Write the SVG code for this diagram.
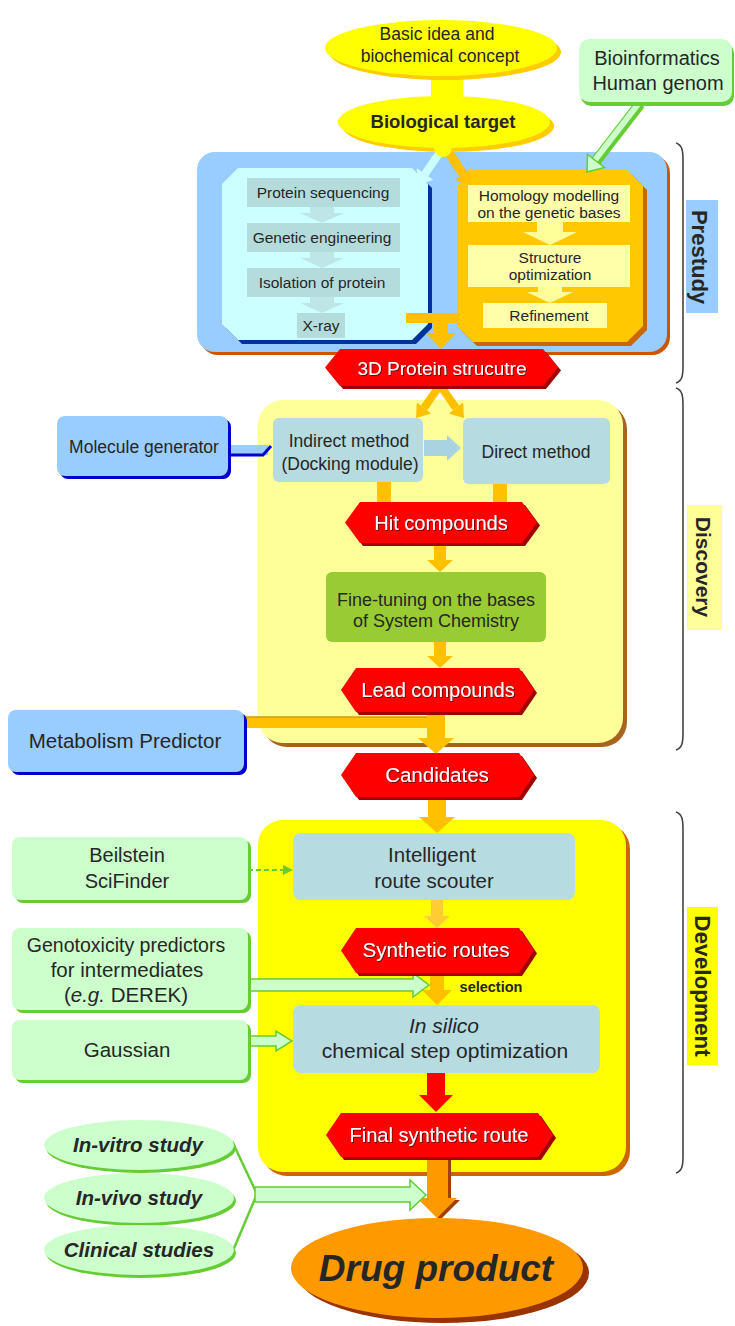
<svg xmlns="http://www.w3.org/2000/svg" width="735" height="1326" viewBox="0 0 735 1326">
<defs>
<style>
text{font-family:"Liberation Sans",Arial,sans-serif;text-anchor:middle;fill:#262626}
.w{fill:#fff;filter:url(#ts)}
.b{font-weight:bold}
.bi{font-weight:bold;font-style:italic}
.hex{fill:#ff0000}
.hexs{fill:#a00000}
.org{fill:#ffc000}
.gi{fill:#b5dcdc}
.ga{fill:#bfe6e6}
.yi{fill:#ffffaa}
.bl{fill:#b6dbe1}
.gr{fill:#ccffcc}
.grs{fill:#66cc33}
.brk{fill:none;stroke:#444;stroke-width:1.6}
</style>
<filter id="ts" x="-10%" y="-30%" width="120%" height="160%">
<feDropShadow dx="1" dy="1" stdDeviation="0.5" flood-color="#660000" flood-opacity="0.9"/>
</filter>
</defs>
<rect width="735" height="1326" fill="#ffffff"/>

<!-- containers -->
<g id="prestudy-box">
<rect x="200" y="155" width="470" height="200" rx="18" fill="#cc5500"/>
<rect x="197" y="152" width="470" height="200" rx="18" fill="#99ccff"/>
</g>
<g id="discovery-box">
<rect x="262" y="404" width="365" height="343" rx="25" fill="#a8641e"/>
<rect x="258" y="400" width="365" height="343" rx="25" fill="#ffff99"/>
</g>
<g id="development-box">
<rect x="262" y="824" width="368" height="352" rx="25" fill="#cc6600"/>
<rect x="258" y="820" width="368" height="352" rx="25" fill="#ffff00"/>
</g>
<g id="experimental-box">
<polygon points="242,172 416,172 432,188 432,328 416,344 242,344 226,328 226,188" fill="#003399"/>
<polygon points="238,168 412,168 428,184 428,324 412,340 238,340 222,324 222,184" fill="#ccffff"/>
</g>
<g id="computational-box">
<polygon points="477,174 631,174 647,190 647,330 631,346 477,346 461,330 461,190" fill="#cc6600"/>
<polygon points="473,170 627,170 643,186 643,326 627,342 473,342 457,326 457,186" fill="#ffc800"/>
</g>

<g id="connectors">
<!-- basic idea to biological target -->
<rect x="431" y="70" width="32" height="32" fill="#ffff00"/>
<!-- bio target to computational -->
<line x1="447" y1="150" x2="463" y2="174" stroke="#ffc000" stroke-width="9"/>
<polygon points="471.1,168.1 454.9,179.9 471,185" fill="#ffc000"/>
<!-- bio target to experimental -->
<line x1="440" y1="152" x2="425" y2="174" stroke="#ccffff" stroke-width="8"/>
<polygon points="433.3,179.7 416.8,168.3 417,186" fill="#ccffff"/>
<!-- bioinformatics to computational -->
<line x1="640" y1="104" x2="596" y2="161" stroke="#66cc33" stroke-width="11"/>
<line x1="639" y1="103" x2="595" y2="160" stroke="#ccffcc" stroke-width="6"/>
<polygon points="604.5,167.5 587.5,154.5 587,172" fill="#ccffcc" stroke="#66cc33" stroke-width="1.5"/>
<!-- T connector to 3D protein -->
<polygon points="406,313 459,313 459,323 448,323 448,333 456,333 441,349 426,333 434,333 434,323 406,323" class="org"/>
<!-- fork to indirect / direct -->
<line x1="438" y1="388" x2="424" y2="408" stroke="#ffc000" stroke-width="8"/>
<polygon points="431.1,413.6 416.9,402.4 416,418" class="org"/>
<line x1="442" y1="388" x2="456" y2="408" stroke="#ffc000" stroke-width="8"/>
<polygon points="448.9,413.6 463.1,402.4 464,418" class="org"/>
<!-- molecule generator to indirect -->
<rect x="228" y="445" width="40" height="10" fill="#99ccff"/>
<polyline points="229,455 263,455 271,446" fill="none" stroke="#0000cc" stroke-width="3"/>
<!-- indirect to direct -->
<polygon points="424,440 447,440 447,435 461,448 447,461 447,456 424,456" fill="#a9d3e0"/>
<!-- to hit compounds -->
<rect x="377" y="482" width="14" height="21" class="org"/>
<rect x="493" y="484" width="14" height="19" class="org"/>
<!-- hit to fine-tuning -->
<polygon points="434,543 446,543 446,560 453,560 440,572 427,560 434,560" class="org"/>
<!-- fine-tuning to lead -->
<polygon points="434,642 446,642 446,656 453,656 440,668 427,656 434,656" class="org"/>
<!-- lead + metabolism to candidates -->
<polygon points="244,717 427,717 427,712 445,712 445,738 454,738 436,754 418,738 427,738 427,728 244,728" class="org"/>
<line x1="244" y1="717" x2="427" y2="717" stroke="#d99a00" stroke-width="1.5"/>
<!-- candidates to scouter -->
<polygon points="428,797 446,797 446,817 455,817 437,833 419,817 428,817" class="org"/>
<!-- beilstein to scouter -->
<line x1="248" y1="870" x2="285" y2="870" stroke="#66cc33" stroke-width="2" stroke-dasharray="5,3"/>
<polygon points="283,865 293,870 283,875" fill="#66cc33"/>
<!-- scouter to synthetic routes -->
<polygon points="431,900 443,900 443,916 450,916 437,928 424,916 431,916" fill="#ffcc33"/>
<!-- synthetic routes to in silico -->
<polygon points="430,973 444,973 444,990 452,990 437,1005 422,990 430,990" class="org"/>
<!-- genotoxicity to selection -->
<polygon points="248,979 413,979 413,973 429,985 413,997 413,991 248,991" fill="#ccffcc" stroke="#66cc33" stroke-width="1.5"/>
<!-- gaussian to in silico -->
<polygon points="248,1036 276,1036 276,1031 292,1041 276,1051 276,1046 248,1046" fill="#ccffcc" stroke="#66cc33" stroke-width="1.5"/>
<!-- in silico to final -->
<polygon points="427,1073 445,1073 445,1095 453,1095 436,1112 419,1095 427,1095" fill="#ff0000"/>
<!-- final to drug product -->
<polygon points="430,1159 451,1159 451,1200 460,1200 440,1220 420,1200 430,1200" fill="#a04000"/>
<polygon points="427,1157 448,1157 448,1198 457,1198 437,1218 417,1198 427,1198" fill="#ff9900"/>
<!-- studies to drug product -->
<polyline points="232,1141 257,1194" fill="none" stroke="#66cc33" stroke-width="2.5"/>
<polyline points="232,1253 257,1194" fill="none" stroke="#66cc33" stroke-width="2.5"/>
<polygon points="255,1187 410,1187 410,1180 426,1195 410,1210 410,1202 255,1202" fill="#ccffcc" stroke="#66cc33" stroke-width="1.5"/>
</g>

<g id="basic-idea">
<ellipse cx="445" cy="52" rx="116" ry="28" fill="#ffcc00"/>
<ellipse cx="441" cy="48" rx="116" ry="28" fill="#ffff00"/>
<text x="437" y="40" font-size="17.5">Basic idea and</text>
<text x="440" y="62" font-size="17.5">biochemical concept</text>
</g>
<g id="biological-target">
<ellipse cx="448" cy="126" rx="106" ry="26" fill="#ffcc00"/>
<ellipse cx="444" cy="122" rx="106" ry="26" fill="#ffff00"/>
<circle cx="443" cy="148" r="9" fill="#ffff00"/>
<text x="443" y="128" font-size="18.5" class="b">Biological target</text>
</g>
<g id="bioinformatics">
<rect x="581" y="43" width="153" height="63" rx="10" class="grs"/>
<rect x="579" y="39" width="153" height="63" rx="10" class="gr"/>
<text x="657" y="65" font-size="20">Bioinformatics</text>
<text x="658" y="90" font-size="20">Human genom</text>
</g>

<g id="experimental-steps">
<polygon points="310,207 334,207 334,213 344,213 322,223 300,213 310,213" class="ga"/>
<polygon points="310,252 334,252 334,258 344,258 322,268 300,258 310,258" class="ga"/>
<polygon points="310,297 334,297 334,303 344,303 322,313 300,303 310,303" class="ga"/>
<rect x="247" y="178" width="153" height="29" class="gi"/>
<text x="323" y="198" font-size="15.5">Protein sequencing</text>
<rect x="247" y="223" width="153" height="29" class="gi"/>
<text x="322" y="243" font-size="15.5">Genetic engineering</text>
<rect x="247" y="268" width="153" height="29" class="gi"/>
<text x="322" y="288" font-size="15.5">Isolation of protein</text>
<rect x="297" y="313" width="48" height="25" class="gi"/>
<text x="321" y="331" font-size="15.5">X-ray</text>
</g>
<g id="computational-steps">
<rect x="468" y="185" width="162" height="37" class="yi"/>
<text x="549" y="201" font-size="15.5">Homology modelling</text>
<text x="549" y="218" font-size="15.5">on the genetic bases</text>
<rect x="468" y="245" width="162" height="42" class="yi"/>
<text x="550" y="263" font-size="15.5">Structure</text>
<text x="550" y="280" font-size="15.5">optimization</text>
<rect x="483" y="303" width="124" height="25" class="yi"/>
<text x="549" y="321" font-size="15.5">Refinement</text>
<polygon points="537,222 563,222 563,232 577,232 550,245 523,232 537,232" fill="#ffff99"/>
<polygon points="538,287 562,287 562,292 573,292 550,303 527,292 538,292" fill="#ffff99"/>
</g>

<g id="protein-structure">
<polygon points="328,370.5 343,352 546,352 561,370.5 546,389 343,389" class="hexs"/>
<polygon points="325,367.5 340,349 543,349 558,367.5 543,386 340,386" class="hex"/>
<text x="442" y="375" font-size="19" class="w">3D Protein strucutre</text>
</g>

<g id="molecule-generator">
<rect x="60" y="419" width="171" height="60" rx="8" fill="#0000cc"/>
<rect x="57" y="416" width="171" height="60" rx="8" fill="#99ccff"/>
<text x="144" y="453" font-size="17.5">Molecule generator</text>
</g>
<g id="indirect-method">
<rect x="273" y="418" width="150" height="64" rx="6" class="bl"/>
<text x="349" y="447" font-size="17.5" fill="#444">Indirect method</text>
<text x="350" y="470" font-size="17.5" fill="#444">(Docking module)</text>
</g>
<g id="direct-method">
<rect x="463" y="418" width="147" height="66" rx="6" class="bl"/>
<text x="536" y="458" font-size="17.5" fill="#444">Direct method</text>
</g>
<g id="hit-compounds">
<polygon points="348,525.5 363,505 525,505 540,525.5 525,546 363,546" class="hexs"/>
<polygon points="345,522.5 360,502 522,502 537,522.5 522,543 360,543" class="hex"/>
<text x="441" y="530" font-size="20" class="w">Hit compounds</text>
</g>
<g id="fine-tuning">
<rect x="326" y="572" width="220" height="70" rx="6" fill="#99cc33"/>
<text x="436" y="606" font-size="18">Fine-tuning on the bases</text>
<text x="436" y="627" font-size="18">of System Chemistry</text>
</g>
<g id="lead-compounds">
<polygon points="344,693 359,671 522,671 537,693 522,715 359,715" class="hexs"/>
<polygon points="341,690 356,668 519,668 534,690 519,712 356,712" class="hex"/>
<text x="438" y="697" font-size="20" class="w">Lead compounds</text>
</g>
<g id="metabolism-predictor">
<rect x="11" y="713" width="236" height="62" rx="8" fill="#0000cc"/>
<rect x="8" y="710" width="236" height="62" rx="8" fill="#99ccff"/>
<text x="125" y="748" font-size="20.5">Metabolism Predictor</text>
</g>
<g id="candidates">
<polygon points="344,778 359,756 522,756 537,778 522,800 359,800" class="hexs"/>
<polygon points="341,775 356,753 519,753 534,775 519,797 356,797" class="hex"/>
<text x="437" y="782" font-size="20.5" class="w">Candidates</text>
</g>

<g id="route-scouter">
<rect x="293" y="833" width="282" height="67" rx="8" class="bl"/>
<text x="432" y="862" font-size="20.5">Intelligent</text>
<text x="434" y="888" font-size="20.5">route scouter</text>
</g>
<g id="beilstein">
<rect x="15" y="840" width="236" height="63" rx="8" class="grs"/>
<rect x="12" y="837" width="236" height="63" rx="8" class="gr"/>
<text x="127" y="862" font-size="20">Beilstein</text>
<text x="127" y="888" font-size="20">SciFinder</text>
</g>
<g id="synthetic-routes">
<polygon points="344,953.5 359,931 522,931 537,953.5 522,976 359,976" class="hexs"/>
<polygon points="341,950.5 356,928 519,928 534,950.5 519,973 356,973" class="hex"/>
<text x="436" y="957" font-size="20.5" class="w">Synthetic routes</text>
</g>
<g id="genotoxicity">
<rect x="15" y="931" width="236" height="82" rx="8" class="grs"/>
<rect x="12" y="928" width="236" height="82" rx="8" class="gr"/>
<text x="126" y="952" font-size="19.5">Genotoxicity predictors</text>
<text x="127" y="977" font-size="20.5">for intermediates</text>
<text x="126" y="1002" font-size="20.5">(<tspan font-style="italic">e.g.</tspan> DEREK)</text>
</g>
<g id="selection-label">
<text x="491" y="992" font-size="14.5" class="b">selection</text>
</g>
<g id="in-silico">
<rect x="293" y="1005" width="307" height="68" rx="8" class="bl"/>
<text x="444" y="1033" font-size="21" font-style="italic">In silico</text>
<text x="445" y="1058" font-size="21">chemical step optimization</text>
</g>
<g id="gaussian">
<rect x="15" y="1023" width="236" height="60" rx="8" class="grs"/>
<rect x="12" y="1020" width="236" height="60" rx="8" class="gr"/>
<text x="127" y="1057" font-size="20.5">Gaussian</text>
</g>
<g id="final-route">
<polygon points="329,1138 344,1116 541,1116 556,1138 541,1160 344,1160" class="hexs"/>
<polygon points="326,1135 341,1113 538,1113 553,1135 538,1157 341,1157" class="hex"/>
<text x="439" y="1142" font-size="20" class="w">Final synthetic route</text>
</g>

<g id="in-vitro">
<ellipse cx="141" cy="1148" rx="95" ry="25" class="grs"/>
<ellipse cx="139" cy="1145" rx="95" ry="25" class="gr"/>
<text x="138" y="1152" font-size="20.5" class="bi">In-vitro study</text>
</g>
<g id="in-vivo">
<ellipse cx="141" cy="1201" rx="95" ry="25" class="grs"/>
<ellipse cx="139" cy="1198" rx="95" ry="25" class="gr"/>
<text x="139" y="1205" font-size="20.5" class="bi">In-vivo study</text>
</g>
<g id="clinical">
<ellipse cx="141" cy="1253" rx="95" ry="25" class="grs"/>
<ellipse cx="139" cy="1250" rx="95" ry="25" class="gr"/>
<text x="139" y="1257" font-size="20.5" class="bi">Clinical studies</text>
</g>
<g id="drug-product">
<ellipse cx="443" cy="1273" rx="146" ry="50" fill="#993300"/>
<ellipse cx="437" cy="1268" rx="146" ry="50" fill="#ff9900"/>
<text x="436" y="1281" font-size="37" class="bi" fill="#111">Drug product</text>
</g>

<g id="phase-prestudy">
<path class="brk" d="M676,143 C682,145 683,150 683,160 L683,366 C683,376 682,381 676,383"/>
<rect x="686" y="200" width="32" height="113" fill="#99ccff"/>
<text transform="translate(692,257) rotate(90)" font-size="22" class="b">Prestudy</text>
</g>
<g id="phase-discovery">
<path class="brk" d="M676,388 C682,390 683,395 683,405 L683,733 C683,743 682,748 676,750"/>
<rect x="687" y="505" width="35" height="125" fill="#ffff99"/>
<text transform="translate(696,567) rotate(90)" font-size="21" class="b">Discovery</text>
</g>
<g id="phase-development">
<path class="brk" d="M676,812 C682,814 683,819 683,829 L683,1156 C683,1166 682,1171 676,1173"/>
<rect x="687" y="907" width="31" height="158" fill="#ffff00"/>
<text transform="translate(695,986) rotate(90)" font-size="22.5" class="b">Development</text>
</g>
</svg>
